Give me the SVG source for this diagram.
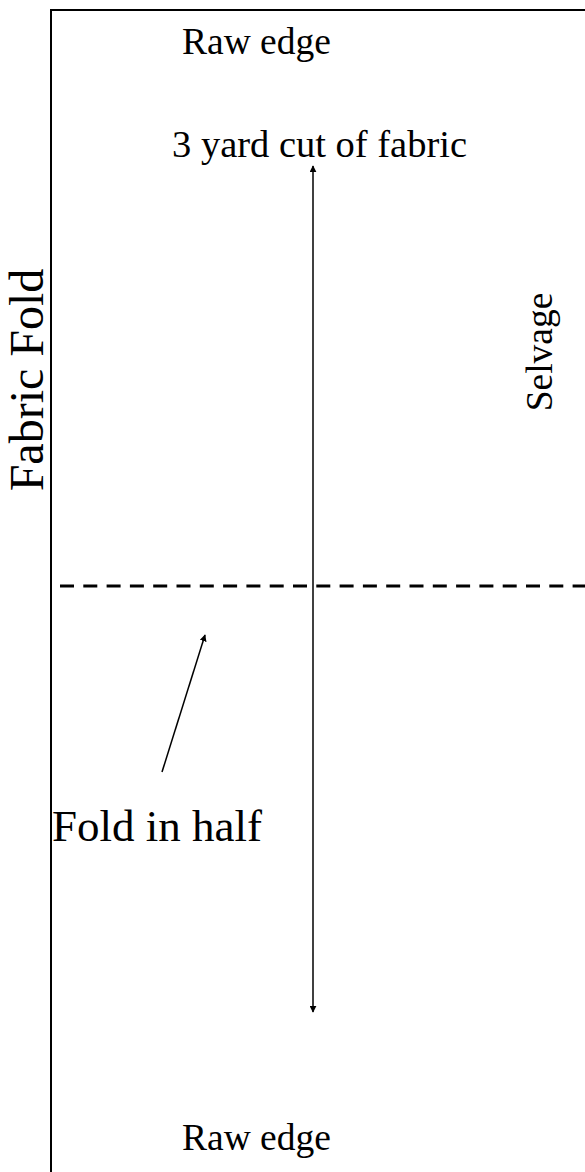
<svg xmlns="http://www.w3.org/2000/svg" width="585" height="1172" viewBox="0 0 585 1172">
  <defs>
    <marker id="head" viewBox="0 0 10 10" refX="9" refY="5" markerWidth="7" markerHeight="7" orient="auto-start-reverse" markerUnits="userSpaceOnUse">
      <path d="M0,0 L10,5 L0,10 z" fill="#000"/>
    </marker>
    <style>
      .lbl { font-family: "Liberation Serif", "Times New Roman", serif; font-size: 37.5px; fill: #000; }
      .edge { fill: none; stroke: #000; }
    </style>
  </defs>
  <rect width="585" height="1172" fill="#fff"/>

  <!-- fabric piece outline (continues past right and bottom edges) -->
  <g id="fabric">
    <path class="edge" stroke-width="2" d="M51,1180 V10 H600"/>
  </g>

  <g id="labels">
    <text id="raw-edge-top" class="lbl" x="182" y="54">Raw edge</text>
    <text id="cut-length" class="lbl" x="172" y="157" style="font-size:38.5px">3 yard cut of fabric</text>
    <text id="fold-note" class="lbl" x="52" y="841" style="font-size:45px">Fold in half</text>
    <text id="raw-edge-bottom" class="lbl" x="182" y="1150">Raw edge</text>
    <text id="fabric-fold" class="lbl" transform="translate(43,380) rotate(-90)" text-anchor="middle" style="font-size:48px">Fabric Fold</text>
    <text id="selvage" class="lbl" transform="translate(552,352) rotate(-90)" text-anchor="middle">Selvage</text>
  </g>

  <g id="connectors">
    <line class="edge" stroke-width="3" stroke-dasharray="14 9.3" x1="60" y1="586" x2="585" y2="586"/>
    <line class="edge" stroke-width="1.5" x1="313" y1="166" x2="313" y2="1012" marker-start="url(#head)" marker-end="url(#head)"/>
    <line class="edge" stroke-width="1.5" x1="162" y1="772" x2="205" y2="635" marker-end="url(#head)"/>
  </g>
</svg>
